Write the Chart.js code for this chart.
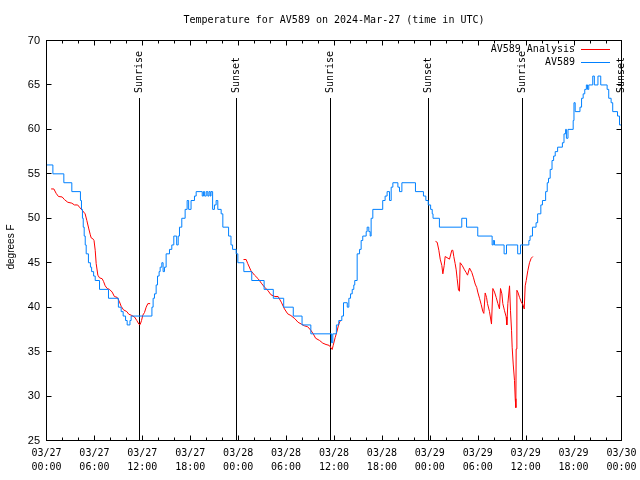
<!DOCTYPE html>
<html>
<head>
<meta charset="utf-8">
<title>Temperature for AV589</title>
<script src="https://cdn.jsdelivr.net/npm/chart.js@4.4.1/dist/chart.umd.min.js"></script>
<style>
  html, body { margin: 0; padding: 0; background: #fff; }
  #chart { display: block; }
</style>
</head>
<body>
<canvas id="chart" width="640" height="480"></canvas>
<script>
// x axis is hours since 03/27 00:00 UTC
const xDays  = ['03/27','03/27','03/27','03/27','03/28','03/28','03/28','03/28','03/29','03/29','03/29','03/29','03/30'];
const xTimes = ['00:00','06:00','12:00','18:00','00:00','06:00','12:00','18:00','00:00','06:00','12:00','18:00','00:00'];

const chartTitle = 'Temperature for AV589 on 2024-Mar-27 (time in UTC)';
const yTitle = 'degrees F';

// sunrise / sunset markers
const sunHours  = [11.52, 23.79, 35.56, 47.83, 59.48, 71.9];
const sunLabels = ['Sunrise', 'Sunset', 'Sunrise', 'Sunset', 'Sunrise', 'Sunset'];

// station observations (AV589), value holds until the next change
const obsHours = [0, 0.8, 2.17, 3.17, 4.25, 4.38, 4.5, 4.6, 4.72, 4.85, 4.97, 5.25, 5.5, 5.65, 5.9, 6.1, 6.64, 7.76, 9.0, 9.35,
  9.6, 9.9, 10.1, 10.45, 10.6, 13.2, 13.35, 13.52, 13.73, 13.9, 14.1, 14.23, 14.44, 14.6, 14.77, 14.98, 15.4, 15.69, 15.94, 16.3,
  16.49, 16.65, 16.94, 17.36, 17.61, 17.8, 18.1, 18.53, 18.74, 19.5, 19.65, 19.8, 20.0, 20.2, 20.35, 20.5, 20.6, 20.8, 21.03, 21.24,
  21.45, 21.87, 22.08, 22.8, 23.1, 23.3, 23.75, 23.96, 24.71, 25.7, 27.25, 28.4, 29.7, 30.9, 32.0, 33.1, 35.7, 35.85, 36.3, 36.6,
  36.98, 37.19, 37.66, 37.86, 38.07, 38.28, 38.48, 38.6, 38.9, 39.2, 39.4, 39.6, 40.03, 40.15, 40.36, 40.53, 40.65, 40.86, 42.1, 42.4,
  42.65, 42.95, 43.16, 43.37, 44.0, 44.2, 44.5, 46.2, 47.2, 47.5, 47.8, 48.1, 48.3, 48.4, 49.2, 52.0, 52.6, 54.0, 55.8, 55.95,
  56.1, 57.3, 57.6, 59.0, 59.35, 60.4, 60.55, 60.85, 61.3, 61.5, 61.9, 62.1, 62.5, 62.7, 62.86, 63.07, 63.3, 63.5, 63.7, 64.0,
  64.6, 64.8, 65.0, 65.1, 65.3, 65.95, 66.05, 66.2, 66.8, 67.0, 67.2, 67.4, 67.6, 67.75, 67.9, 68.4, 68.6, 69.05, 69.4, 70.2,
  70.4, 70.7, 70.9, 71.5, 71.75, 72];
const obsTemps = [56, 55, 54, 53, 52, 51, 50, 49, 48, 47, 46, 45, 44.5, 44, 43.5, 43, 42, 41, 40, 39.5,
  39, 38.5, 38, 38.5, 39, 40, 41, 41.5, 42.5, 43.5, 44, 44.5, 45, 44, 44.5, 46, 46.5, 47, 48, 47,
  48, 49, 50, 51, 52, 51, 52, 52.5, 53, 52.5, 53, 52.5, 53, 52.5, 53, 52.5, 53, 51, 51.5, 52,
  51, 50.5, 49, 48, 47, 46.5, 46, 45, 44, 43, 42, 41, 40, 39, 38, 37, 36, 37, 38, 38.5,
  39, 40.5, 40, 41, 41.5, 42, 42.5, 43, 46, 46.5, 47.5, 48, 48.5, 49, 48.5, 48, 50, 51, 52, 52.5,
  53, 52, 53.5, 54, 53.5, 53, 54, 53, 52.5, 52, 51.5, 51, 50.5, 50, 49, 50, 49, 48, 47, 47.5,
  47, 46, 47, 46, 47, 47.5, 48, 49, 49.5, 50.5, 51.5, 52, 53, 54, 54.5, 55.5, 56.5, 57, 57.5, 58,
  58.5, 59.5, 60, 59, 60, 61, 63, 62, 62.5, 63.5, 64, 64.5, 65, 64.5, 65, 66, 65, 66, 65, 64.5,
  63.5, 63, 62, 61.5, 60.5, 60.5];

// analysis values, null marks the gap between runs
const anaHours = [0.58, 0.92, 1.21, 1.5, 1.96, 2.25, 2.67, 3.17, 3.5, 3.9, 4.13, 4.47, 4.84, 5.05, 5.3, 5.47, 5.59, 5.8, 5.95, 6.1,
  6.22, 6.43, 6.64, 6.97, 7.14, 7.35, 7.6, 7.89, 8.22, 8.5, 8.85, 9.14, 9.35, 9.64, 10.06, 10.31, 10.6, 11.02, 11.31, 11.56,
  11.73, 11.9, 12.06, 12.27, 12.48, 12.69, 12.98, 13.5,
  24.67, 25.0, 25.2, 25.6, 26.05, 26.5, 26.9, 27.3, 27.7, 28.1, 28.6, 29.0, 29.4, 29.8, 30.2, 30.6, 31.1, 31.5, 31.9, 32.3,
  32.7, 33.1, 33.4, 33.7, 34.2, 34.6, 35.0, 35.4, 35.77, 35.9, 36.15, 36.35, 36.6, 36.8, 42.0,
  48.71, 48.92, 49.13, 49.3, 49.5, 49.63, 49.8, 49.92, 50.46, 50.75, 50.88, 51.0, 51.17, 51.3, 51.42, 51.59, 51.71, 51.8, 52.05, 52.34,
  52.55, 52.72, 52.97, 53.26, 53.47, 53.68, 53.88, 54.0, 54.22, 54.43, 54.64, 54.76, 54.93, 55.1, 55.22, 55.47, 55.72, 55.89, 56.1, 56.31,
  56.52, 56.72, 56.85, 57.02, 57.14, 57.35, 57.56, 57.64, 57.77, 57.98, 58.1, 58.23, 58.31, 58.44, 58.6, 58.69, 58.77, 58.81, 58.9, 59.02,
  59.23, 59.44, 59.65, 59.82, 59.94, 60.07, 60.27, 60.48, 60.69, 60.9];
const anaTemps = [53.3, 53.3, 52.8, 52.45, 52.4, 52.1, 51.8, 51.7, 51.5, 51.5, 51.25, 50.9, 50.5, 49.75, 48.8, 48.2, 47.8, 47.7, 47.5, 46.4,
  44.9, 43.6, 43.3, 43.2, 42.9, 42.4, 42.1, 42.0, 41.7, 41.2, 41.1, 40.6, 40.1, 39.7, 39.5, 39.2, 39.1, 38.9, 38.5, 38.1,
  38.05, 38.5, 39.1, 39.4, 40.0, 40.4, 40.4, null,
  45.36, 45.36, 44.9, 44.1, 43.6, 43.2, 42.7, 42.25, 41.9, 41.4, 41.2, 41.2, 40.56, 39.8, 39.25, 39.06, 38.7, 38.3, 38.1, 37.9,
  37.8, 37.4, 37.0, 36.5, 36.25, 35.95, 35.8, 35.7, 35.24, 35.7, 36.6, 37.2, 38.1, 38.5, null,
  47.4, 47.3, 46.4, 45.4, 44.7, 43.75, 44.7, 45.7, 45.4, 46.4, 46.4, 45.7, 44.9, 44.2, 43.2, 41.9, 41.8, 45.0, 44.7, 44.2,
  43.9, 43.6, 44.4, 43.9, 43.3, 42.6, 42.2, 41.7, 41.0, 40.3, 39.5, 39.3, 41.6, 41.1, 40.4, 39.5, 38.1, 42.1, 41.7, 41.1,
  40.4, 39.8, 42.1, 41.5, 40.4, 39.6, 38.9, 38.0, 40.4, 42.4, 39.6, 37.4, 35.5, 33.6, 31.75, 29.7, 28.7, 35.3, 41.9, 41.7,
  41.1, 40.6, 40.3, 39.8, 42.4, 43.0, 44.1, 45.0, 45.5, 45.7];

const obsPoints = obsHours.map((h, i) => ({ x: h, y: obsTemps[i] }));
const anaPoints = anaHours.map((h, i) => ({ x: h, y: anaTemps[i] }));

const monoFont = '"DejaVu Sans Mono", monospace';
const sansFont = '"Liberation Sans", Arial, sans-serif';

// frame, inward tics, sun markers, titles and legend drawn gnuplot-style
const gnuplotDecor = {
  id: 'gnuplotDecor',
  beforeDatasetsDraw(chart) {
    const { ctx, chartArea: a, scales: { x } } = chart;
    ctx.save();
    ctx.strokeStyle = '#000';
    ctx.fillStyle = '#000';
    ctx.lineWidth = 1;
    ctx.font = '10px ' + monoFont;
    sunHours.forEach((h, i) => {
      const px = Math.round(x.getPixelForValue(h)) + 0.5;
      ctx.beginPath();
      ctx.moveTo(px, 98);
      ctx.lineTo(px, a.bottom);
      ctx.stroke();
      //rotated label sitting on top of the line
      ctx.save();
      ctx.translate(px, 93);
      ctx.rotate(-Math.PI / 2);
      ctx.textAlign = 'left';
      ctx.textBaseline = 'middle';
      ctx.fillText(sunLabels[i], 0, 0);
      ctx.restore();
    });
    ctx.restore();
  },
  afterDraw(chart) {
    const { ctx, chartArea: a, scales: { x, y } } = chart;
    const l = Math.floor(a.left) + 0.5, r = Math.floor(a.right) + 0.5;
    const t = Math.floor(a.top) + 0.5, b = Math.floor(a.bottom) + 0.5;
    ctx.save();
    ctx.strokeStyle = '#000';
    ctx.lineWidth = 1;
    ctx.strokeRect(l, t, r - l, b - t);

    ctx.beginPath();
    // x tics every 2 hours, longer every 6
    for (let h = 2; h < 72; h += 2) {
      const px = Math.round(x.getPixelForValue(h)) + 0.5;
      const len = h % 6 === 0 ? 5 : 3;
      ctx.moveTo(px, b); ctx.lineTo(px, b - len);
      ctx.moveTo(px, t); ctx.lineTo(px, t + len);
    }
    // y tics on both sides
    for (let v = 30; v < 70; v += 5) {
      const py = Math.floor(y.getPixelForValue(v)) + 0.5;
      ctx.moveTo(l, py); ctx.lineTo(l + 5, py);
      ctx.moveTo(r, py); ctx.lineTo(r - 5, py);
    }
    ctx.stroke();

    ctx.fillStyle = '#000';
    // title centred over the plot box
    ctx.font = '10px ' + monoFont;
    ctx.textAlign = 'center';
    ctx.textBaseline = 'middle';
    ctx.fillText(chartTitle, (a.left + a.right) / 2, 20);

    // y axis label
    ctx.save();
    ctx.font = '10px ' + sansFont;
    ctx.translate(11, 247);
    ctx.rotate(-Math.PI / 2);
    ctx.fillText(yTitle, 0, 0);
    ctx.restore();

    // legend in the top right corner
    ctx.font = '10px ' + monoFont;
    ctx.textAlign = 'right';
    chart.data.datasets.forEach((ds, i) => {
      const ly = 49 + i * 13;
      ctx.fillText(ds.label, 575, ly);
      ctx.strokeStyle = ds.borderColor;
      ctx.beginPath();
      ctx.moveTo(581, ly + 0.5);
      ctx.lineTo(610, ly + 0.5);
      ctx.stroke();
    });
    ctx.restore();
  }
};

const ctx = document.getElementById('chart').getContext('2d');
new Chart(ctx, {
  type: 'line',
  data: {
    datasets: [{
      label: 'AV589 Analysis',
      data: anaPoints,
      borderColor: '#ff0000',
      borderWidth: 1,
      pointRadius: 0,
      spanGaps: false,
      order: 1
    }, {
      label: 'AV589',
      data: obsPoints,
      borderColor: '#0080ff',
      borderWidth: 1,
      pointRadius: 0,
      stepped: true,
      order: 0
    }]
  },
  options: {
    responsive: false,
    animation: false,
    devicePixelRatio: 1,
    layout: { padding: { left: 0, right: 18.5, top: 40.5, bottom: 0 } },
    plugins: {
      legend: { display: false },
      tooltip: { enabled: false },
      title: { display: false }
    },
    scales: {
      x: {
        type: 'linear',
        min: 0,
        max: 72,
        grid: { display: false, drawTicks: false },
        border: { display: false },
        afterFit: scale => {
          scale.height = 39.5;
          //labels may hang over the edges, keep the plot box fixed
          scale.paddingLeft = 0;
          scale.paddingRight = 0;
        },
        ticks: {
          stepSize: 6,
          autoSkip: false,
          maxRotation: 0,
          padding: 6,
          color: '#000',
          font: { family: monoFont, size: 10, lineHeight: 1.4 },
          callback: v => [xDays[v / 6], xTimes[v / 6]]
        }
      },
      y: {
        min: 25,
        max: 70,
        grid: { display: false, drawTicks: false },
        border: { display: false },
        afterFit: scale => {
          scale.width = 46.5;
          scale.paddingTop = 0;
          scale.paddingBottom = 0;
        },
        ticks: {
          stepSize: 5,
          padding: 6.5,
          color: '#000',
          font: { family: sansFont, size: 11 }
        }
      }
    }
  },
  plugins: [gnuplotDecor]
});
</script>
</body>
</html>
